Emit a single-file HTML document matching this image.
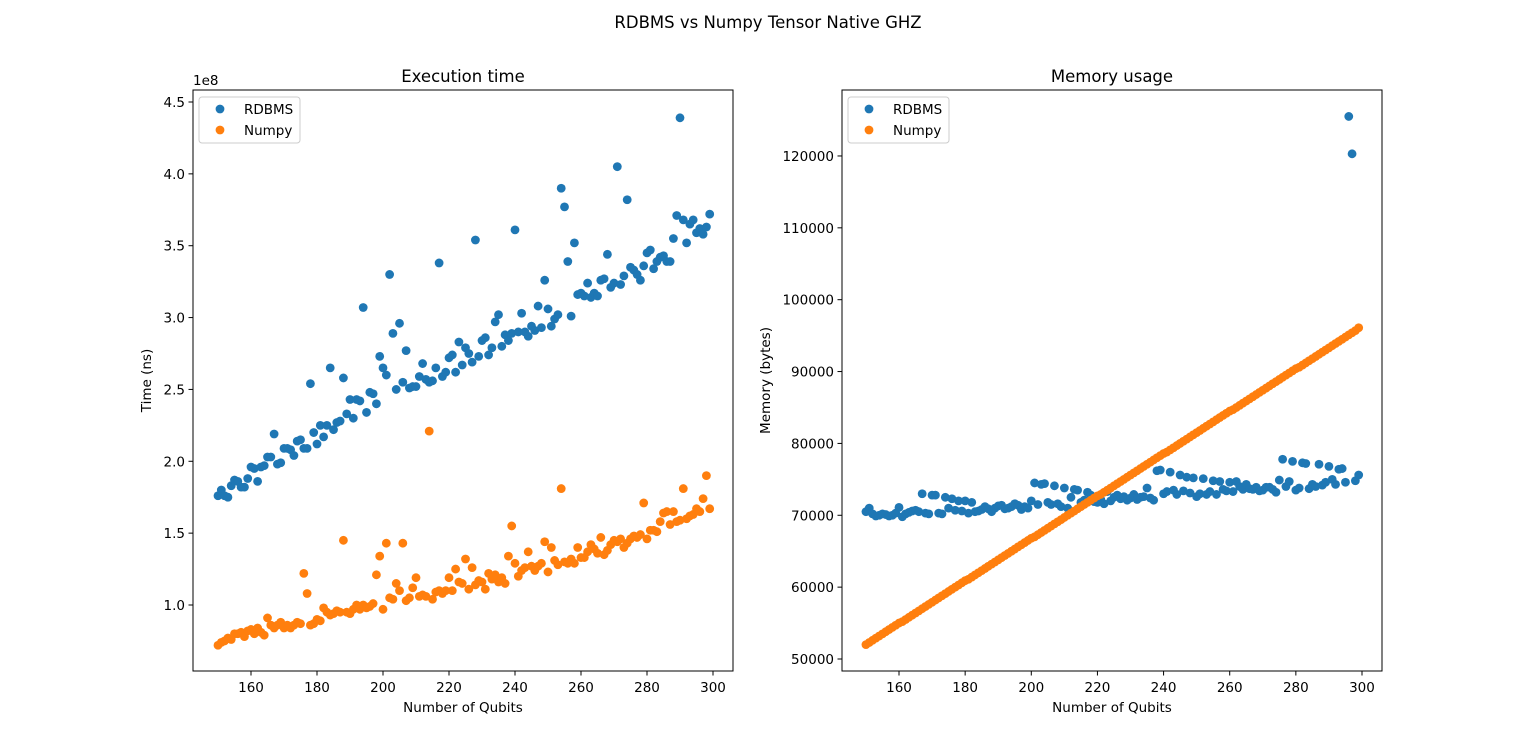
<!DOCTYPE html>
<html><head><meta charset="utf-8"><style>
body{margin:0;background:#fff}
svg{display:block;font-family:"DejaVu Sans","Liberation Sans",sans-serif}
</style></head><body>
<svg id="fig" width="1536" height="754" xmlns="http://www.w3.org/2000/svg">
<rect width="1536" height="754" fill="#fff"/>
<text x="768" y="28" font-size="16.5" text-anchor="middle">RDBMS vs Numpy Tensor Native GHZ</text>
</svg>
<script>
const qubits = [];
for (let q = 150; q <= 299; q++) qubits.push(q);
const timeRdbms = [1.76,1.80,1.76,1.75,1.83,1.87,1.86,1.82,1.82,1.88,
1.96,1.95,1.86,1.96,1.97,2.03,2.03,2.19,1.98,1.99,
2.09,2.09,2.08,2.04,2.14,2.15,2.09,2.09,2.54,2.20,
2.12,2.25,2.17,2.25,2.65,2.22,2.27,2.28,2.58,2.33,
2.43,2.30,2.43,2.42,3.07,2.34,2.48,2.47,2.40,2.73,
2.65,2.60,3.30,2.89,2.50,2.96,2.55,2.77,2.51,2.52,
2.52,2.59,2.68,2.57,2.55,2.56,2.65,3.38,2.59,2.62,
2.72,2.74,2.62,2.83,2.67,2.79,2.75,2.69,3.54,2.73,
2.84,2.86,2.74,2.79,2.97,3.02,2.80,2.88,2.84,2.89,
3.61,2.90,3.03,2.90,2.87,2.94,2.91,3.08,2.93,3.26,
3.06,2.94,2.99,3.02,3.90,3.77,3.39,3.01,3.52,3.16,
3.17,3.15,3.24,3.14,3.17,3.15,3.26,3.27,3.44,3.21,
3.24,4.05,3.23,3.29,3.82,3.35,3.33,3.30,3.26,3.36,
3.45,3.47,3.34,3.39,3.42,3.43,3.39,3.39,3.55,3.71,
4.39,3.68,3.52,3.65,3.68,3.59,3.62,3.58,3.63,3.72];
const timeNumpy = [0.72,0.74,0.75,0.77,0.76,0.80,0.80,0.81,0.78,0.82,
0.83,0.80,0.84,0.81,0.79,0.91,0.86,0.84,0.86,0.88,
0.84,0.86,0.84,0.86,0.88,0.87,1.22,1.08,0.86,0.87,
0.90,0.89,0.98,0.95,0.93,0.94,0.96,0.95,1.45,0.95,
0.94,0.97,1.00,0.97,1.00,0.98,0.99,1.01,1.21,1.34,
0.97,1.43,1.05,1.04,1.15,1.10,1.43,1.03,1.05,1.12,
1.19,1.06,1.07,1.06,2.21,1.04,1.09,1.10,1.08,1.10,
1.19,1.10,1.25,1.16,1.15,1.32,1.11,1.26,1.14,1.17,
1.16,1.11,1.22,1.18,1.21,1.16,1.19,1.15,1.34,1.55,
1.29,1.20,1.24,1.26,1.37,1.27,1.24,1.27,1.29,1.44,
1.23,1.40,1.31,1.28,1.81,1.30,1.29,1.32,1.29,1.40,
1.33,1.33,1.37,1.42,1.39,1.36,1.47,1.35,1.38,1.42,
1.45,1.44,1.46,1.40,1.43,1.46,1.48,1.47,1.49,1.71,
1.46,1.52,1.52,1.51,1.58,1.64,1.65,1.56,1.65,1.58,
1.59,1.81,1.60,1.62,1.63,1.67,1.65,1.74,1.90,1.67];
const memRdbms = [70.5,71.0,70.2,69.9,70.0,70.2,70.1,69.9,70.0,70.3,
71.1,69.8,70.2,70.4,70.6,70.7,70.5,73.0,70.3,70.2,
72.8,72.8,70.3,70.2,72.5,71.0,72.3,70.7,72.0,70.6,
72.0,70.3,71.8,70.5,70.6,70.8,71.2,70.9,70.5,71.0,
71.3,71.4,70.9,71.0,71.2,71.6,71.4,70.8,71.2,71.0,
72.0,74.5,71.5,74.3,74.4,71.8,71.5,74.1,71.6,71.2,
73.8,71.0,72.5,73.6,73.5,71.8,72.1,73.2,72.8,71.9,
71.8,72.2,71.6,73.3,72.0,72.5,72.8,72.3,72.6,72.1,
72.4,72.9,72.2,72.5,72.6,73.8,72.4,72.1,76.2,76.3,
73.0,73.3,76.0,73.5,72.9,75.6,73.4,75.3,73.1,75.2,
72.6,73.0,75.1,72.9,73.3,74.8,72.9,74.7,73.6,73.4,
74.6,73.3,74.7,74.0,73.6,74.3,73.7,73.6,73.9,73.4,
73.5,73.9,73.9,73.6,73.2,74.9,77.8,74.0,74.7,77.5,
73.5,73.8,77.3,77.2,73.7,74.3,74.0,77.1,74.2,74.6,
76.8,75.0,74.3,76.4,76.5,74.6,125.5,120.3,74.8,75.6];
const memNumpy = [52.0,52.3,52.6,52.9,53.2,53.5,53.8,54.1,54.4,54.7,
55.0,55.2,55.5,55.8,56.1,56.4,56.7,57.0,57.3,57.6,
57.9,58.2,58.5,58.8,59.1,59.4,59.7,60.0,60.3,60.6,
60.9,61.1,61.4,61.7,62.0,62.3,62.6,62.9,63.2,63.5,
63.8,64.1,64.4,64.7,65.0,65.3,65.6,65.9,66.2,66.5,
66.8,67.0,67.3,67.6,67.9,68.2,68.5,68.8,69.1,69.4,
69.7,70.0,70.3,70.6,70.9,71.2,71.5,71.8,72.1,72.4,
72.7,72.9,73.2,73.5,73.8,74.1,74.4,74.7,75.0,75.3,
75.6,75.9,76.2,76.5,76.8,77.1,77.4,77.7,78.0,78.3,
78.6,78.8,79.1,79.4,79.7,80.0,80.3,80.6,80.9,81.2,
81.5,81.8,82.1,82.4,82.7,83.0,83.3,83.6,83.9,84.2,
84.5,84.7,85.0,85.3,85.6,85.9,86.2,86.5,86.8,87.1,
87.4,87.7,88.0,88.3,88.6,88.9,89.2,89.5,89.8,90.1,
90.4,90.6,90.9,91.2,91.5,91.8,92.1,92.4,92.7,93.0,
93.3,93.6,93.9,94.2,94.5,94.8,95.1,95.4,95.7,96.1];
const xTicks = [160,180,200,220,240,260,280,300];
const timeTicks = [1.0,1.5,2.0,2.5,3.0,3.5,4.0,4.5];
const memTicks = [50,60,70,80,90,100,110,120];

const NS = 'http://www.w3.org/2000/svg';
const svg = document.getElementById('fig');
function mk(tag, attrs, parent) {
  const e = document.createElementNS(NS, tag);
  for (const k in attrs) e.setAttribute(k, attrs[k]);
  (parent || svg).appendChild(e);
  return e;
}
function panel(o) {
  const g = mk('g', {});
  
  
  const sx = v => o.x0 + (v - o.xmin) / (o.xmax - o.xmin) * (o.x1 - o.x0);
  const sy = v => o.y1 - (v - o.ymin) / (o.ymax - o.ymin) * (o.y1 - o.y0);
  const t = mk('text', {x: (o.x0 + o.x1) / 2, y: 82, 'font-size': 16.5, 'text-anchor': 'middle'}, g);
  t.textContent = o.title;
  
  
  [[o.s1, '#1f77b4', 'rdbms'], [o.s2, '#ff7f0e', 'numpy']].forEach(([arr, col, nm]) => {
    arr.forEach((v, i) => {
      const c = mk('circle', {cx: sx(qubits[i]), cy: sy(v), r: 4.4, fill: col}, g);
      
      
    });
  });
  const fr = mk('rect', {x: o.x0, y: o.y0, width: o.x1 - o.x0, height: o.y1 - o.y0, fill: 'none', stroke: '#000', 'stroke-width': 1}, g);
  
  
  xTicks.forEach(v => {
    const x = sx(v);
    mk('line', {x1: x, x2: x, y1: o.y1, y2: o.y1 + 4.5, stroke: '#000'}, g);
    const l = mk('text', {x: x, y: o.y1 + 21, 'font-size': 13.5, 'text-anchor': 'middle'}, g);
    l.textContent = v;
    
    
  });
  o.ticks.forEach((v, i) => {
    const y = sy(v);
    mk('line', {x1: o.x0 - 4.5, x2: o.x0, y1: y, y2: y, stroke: '#000'}, g);
    const l = mk('text', {x: o.x0 - 8, y: y + 5, 'font-size': 13.5, 'text-anchor': 'end'}, g);
    l.textContent = o.tickLabels[i];
    
    
  });
  const xl = mk('text', {x: (o.x0 + o.x1) / 2, y: 712, 'font-size': 13.5, 'text-anchor': 'middle'}, g);
  xl.textContent = 'Number of Qubits';
  
  
  const yl = mk('text', {x: 0, y: 0, 'font-size': 13.5, 'text-anchor': 'middle', transform: `translate(${o.ylx},${(o.y0 + o.y1) / 2}) rotate(-90)`}, g);
  yl.textContent = o.ylabel;
  
  
  if (o.offset) {
    const of = mk('text', {x: o.x0, y: 85, 'font-size': 13.5}, g);
    of.textContent = o.offset;
    
    
  }
  const lg = mk('g', {}, g);
  
  
  mk('rect', {x: o.x0 + 6, y: 97, width: 101, height: 46, rx: 3, fill: '#fff', 'fill-opacity': 0.8, stroke: '#ccc'}, lg);
  [['RDBMS', '#1f77b4', 109], ['Numpy', '#ff7f0e', 130]].forEach(([n, c, y]) => {
    mk('circle', {cx: o.x0 + 27, cy: y, r: 4.4, fill: c}, lg);
    const tx = mk('text', {x: o.x0 + 51, y: y + 5, 'font-size': 13.5}, lg);
    tx.textContent = n;
    
    
  });
}
panel({name: 'execution-time-chart', title: 'Execution time', x0: 193, x1: 733, y0: 90, y1: 671,
  xmin: 142.42, xmax: 306.06, ymin: 0.5407, ymax: 4.5835, s1: timeRdbms, s2: timeNumpy,
  ticks: timeTicks, tickLabels: timeTicks.map(v => v.toFixed(1)), ylabel: 'Time (ns)', ylx: 151, offset: '1e8'});
panel({name: 'memory-usage-chart', title: 'Memory usage', x0: 842, x1: 1382, y0: 90, y1: 671,
  xmin: 142.76, xmax: 306.05, ymin: 48.33, ymax: 129.18, s1: memRdbms, s2: memNumpy,
  ticks: memTicks, tickLabels: memTicks.map(v => String(v * 1000)), ylabel: 'Memory (bytes)', ylx: 770});
</script>
</body></html>
